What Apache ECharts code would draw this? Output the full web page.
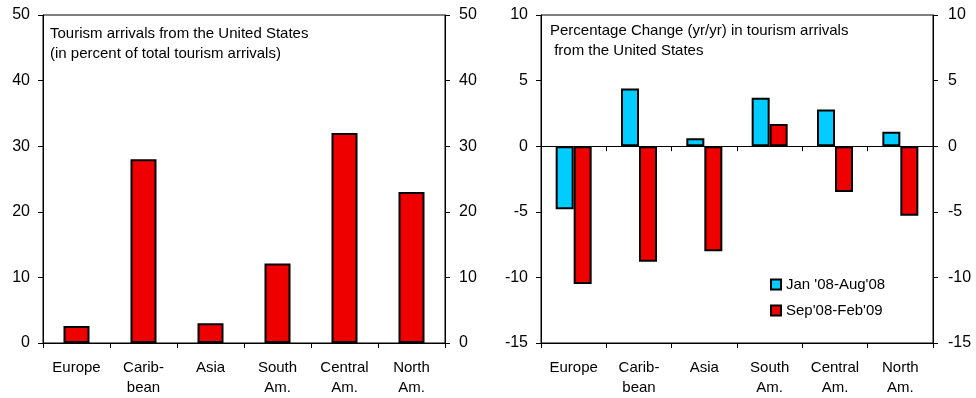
<!DOCTYPE html>
<html>
<head>
<meta charset="utf-8">
<script src="https://cdn.jsdelivr.net/npm/echarts@6/dist/echarts.min.js"></script>
<style>
html,body{margin:0;padding:0;background:#fff;}
#chart{width:976px;height:398px;}
</style>
</head>
<body>
<div id="chart"></div>
<script>
// ---- data ----
const categories = ['Europe', 'Carib-\nbean', 'Asia', 'South\nAm.', 'Central\nAm.', 'North\nAm.'];
const shareOfArrivals = [2.6, 28.0, 3.0, 12.1, 32.0, 23.0];
const seriesNames = ["Jan '08-Aug'08", "Sep'08-Feb'09"];
const chgJan08Aug08 = [-4.8, 4.4, 0.6, 3.7, 2.8, 1.1];
const chgSep08Feb09 = [-10.5, -8.8, -8.0, 1.7, -3.5, -5.3];
const leftTitle = 'Tourism arrivals from the United States\n(in percent of total tourism arrivals)';
const rightTitle = 'Percentage Change (yr/yr) in tourism arrivals\n from the United States';

const FONT = "'Liberation Sans', Arial, sans-serif";
const RED = '#ee0000';
const CYAN = '#00ccff';
const line = { show: true, lineStyle: { color: '#000', width: 1 } };
const tick = { show: true, length: 5, lineStyle: { color: '#000', width: 1 } };

function yAx(grid, pos, min, max, interval, margin) {
  return {
    type: 'value', gridIndex: grid, position: pos, min: min, max: max, interval: interval,
    splitLine: { show: false }, axisLine: line, axisTick: tick,
    axisLabel: { fontSize: 16, color: '#000', fontFamily: FONT, margin: margin }
  };
}
function xAx(grid, showLabel, onZero) {
  return {
    type: 'category', gridIndex: grid, position: 'bottom', data: categories,
    axisLine: { show: true, onZero: onZero, lineStyle: { color: '#000', width: 1 } },
    axisTick: { show: true, length: 5, alignWithLabel: false, lineStyle: { color: '#000', width: 1 } },
    axisLabel: { show: showLabel, fontSize: 15, lineHeight: 20, color: '#000', fontFamily: FONT, margin: 15, interval: 0 },
    splitLine: { show: false }
  };
}

const chart = echarts.init(document.getElementById('chart'), null, { renderer: 'canvas' });
chart.setOption({
  animation: false,
  backgroundColor: '#fff',
  textStyle: { fontFamily: FONT },
  title: [
    { text: leftTitle, left: 50, top: 24, padding: 0, textStyle: { fontSize: 15, fontWeight: 'normal', color: '#000', lineHeight: 20, fontFamily: FONT } },
    { text: rightTitle, left: 550, top: 21, padding: 0, textStyle: { fontSize: 15, fontWeight: 'normal', color: '#000', lineHeight: 20, fontFamily: FONT } }
  ],
  legend: {
    data: seriesNames, orient: 'vertical', left: 770, top: 276, padding: 0, itemWidth: 10, itemHeight: 10, itemGap: 9,
    icon: 'rect',
    textStyle: { fontSize: 15, lineHeight: 17, color: '#000', fontFamily: FONT }
  },
  grid: [
    { left: 43, right: 531, top: 15, bottom: 51, show: true, borderColor: '#000', borderWidth: 1, backgroundColor: 'transparent' },
    { left: 541, right: 43, top: 15, bottom: 51, show: true, borderColor: '#000', borderWidth: 1, backgroundColor: 'transparent' }
  ],
  xAxis: [
    xAx(0, true, false),
    xAx(1, true, false),
    xAx(1, false, true)
  ],
  yAxis: [
    yAx(0, 'left', 0, 50, 10, 13),
    yAx(0, 'right', 0, 50, 10, 14),
    yAx(1, 'left', -15, 10, 5, 13),
    yAx(1, 'right', -15, 10, 5, 15)
  ],
  series: [
    { name: 'Share', type: 'bar', xAxisIndex: 0, yAxisIndex: 0, data: shareOfArrivals, barWidth: 26,
      itemStyle: { color: RED, borderColor: '#000', borderWidth: 2 } },
    { name: seriesNames[0], type: 'bar', xAxisIndex: 1, yAxisIndex: 2, data: chgJan08Aug08, barWidth: 18, barGap: '0%',
      itemStyle: { color: CYAN, borderColor: '#000', borderWidth: 2 } },
    { name: seriesNames[1], type: 'bar', xAxisIndex: 1, yAxisIndex: 2, data: chgSep08Feb09, barWidth: 18, barGap: '0%',
      itemStyle: { color: RED, borderColor: '#000', borderWidth: 2 } }
  ]
});
</script>
</body>
</html>
